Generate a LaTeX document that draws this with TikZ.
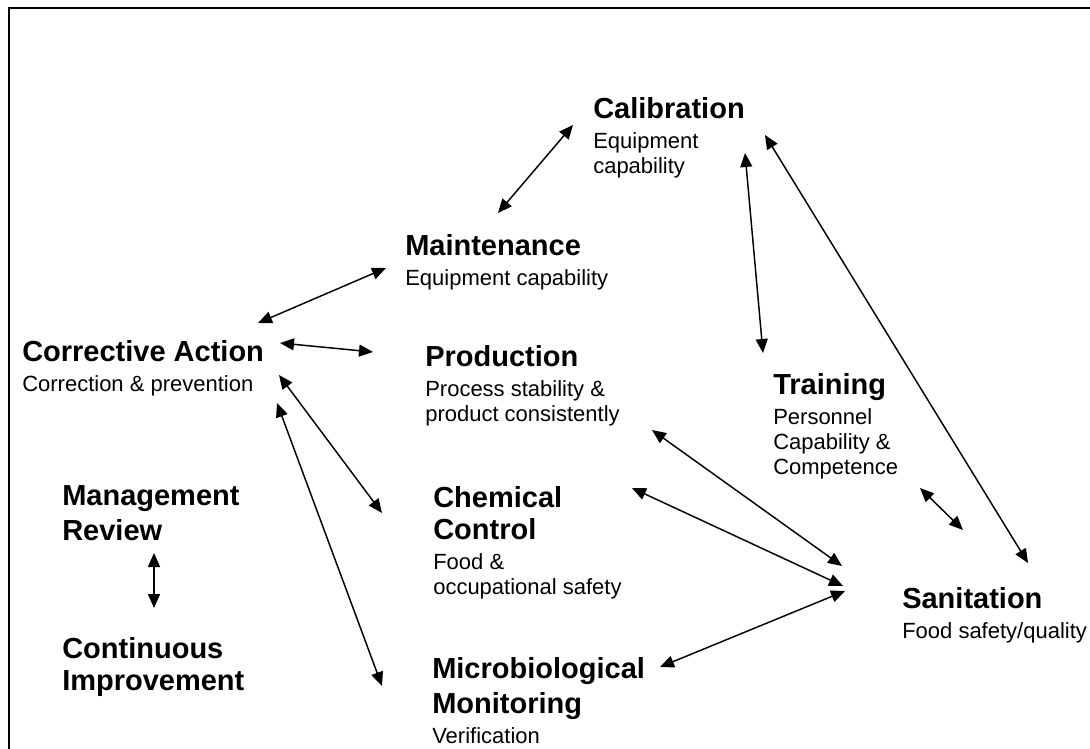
\documentclass[tikz,border=0pt]{standalone}
\usepackage{fontspec}
\setmainfont{Liberation Sans}
\usetikzlibrary{arrows.meta,calc,positioning}

\tikzset{
  blk/.style={anchor=north west, inner sep=0pt, align=left,
    font=\fontsize{16.5}{18.75}\selectfont},
  link/.style={{Triangle[length=10.5pt,width=9pt]}-{Triangle[length=10.5pt,width=9pt]},
    line width=1.1pt},
}
\newcommand{\hd}[1]{{\fontsize{21.75}{24}\selectfont\bfseries #1}}

\begin{document}
\begin{tikzpicture}[x=0.75pt,y=-0.75pt]
  % page and frame
  \useasboundingbox (0,0) rectangle (1090,749);
  \clip (0,0) rectangle (1090,749);
  \fill[white] (0,0) rectangle (1090,749);
  \draw[line width=1.5pt] (9,8) rectangle (1120,780);

  % blocks
  \node[blk] (cal) at (593,97) {\hd{Calibration}\\[3.75pt]Equipment\\capability};
  \node[blk] (mnt) at (405,234) {\hd{Maintenance}\\[3.75pt]Equipment capability};
  \node[blk] (cor) at (22,340) {\hd{Corrective Action}\\[3.75pt]Correction \& prevention};
  \node[blk] (prd) at (425,345) {\hd{Production}\\[3.75pt]Process stability \&\\product consistently};
  \node[blk] (trn) at (773,373) {\hd{Training}\\[3.75pt]Personnel\\Capability \&\\Competence};
  \node[blk] (mgr) at (62,485) {\hd{Management}\\[5.25pt]\hd{Review}};
  \node[blk] (chm) at (433,486) {\hd{Chemical}\\[5.25pt]\hd{Control}\\[3.75pt]Food \&\\occupational safety};
  \node[blk] (san) at (902,587) {\hd{Sanitation}\\[3.75pt]Food safety/quality};
  \node[blk] (imp) at (62,637) {\hd{Continuous}\\[5.25pt]\hd{Improvement}};
  \node[blk] (mic) at (432,657) {\hd{Microbiological}\\[5.25pt]\hd{Monitoring}\\[3.75pt]Verification};

  % links
  \draw[link] ($(mnt.north west)+(93,-21)$) -- ($(cal.north west)+(-20,28)$);
  \draw[link] ($(cal.north west)+(152,56)$) -- ($(trn.north west)+(-10,-20)$);
  \draw[link] ($(cal.north west)+(172,38)$) -- ($(san.north west)+(126,-24)$);
  \draw[link] ($(cor.north west)+(236,-17)$) -- ($(mnt.north west)+(-19,34)$);
  \draw[link] ($(cor.north west)+(258,3)$) -- ($(prd.north west)+(-52,7)$);
  \draw[link] ($(cor.north west)+(257,35)$) -- ($(chm.north west)+(-51,27)$);
  \draw[link] ($(cor.north west)+(255,63)$) -- ($(mic.north west)+(-50,29)$);
  \draw[link] ($(prd.north west)+(227,85)$) -- ($(san.north west)+(-60,-21)$);
  \draw[link] ($(trn.north west)+(147,115)$) -- ($(san.north west)+(61,-57)$);
  \draw[link] ($(chm.north west)+(199,2)$) -- ($(san.north west)+(-59,-1)$);
  \draw[link] ($(mic.north west)+(228,10)$) -- ($(san.north west)+(-57,4)$);
  \draw[link] ($(mgr.north west)+(92,68)$) -- ($(imp.north west)+(92,-29)$);
\end{tikzpicture}
\end{document}
